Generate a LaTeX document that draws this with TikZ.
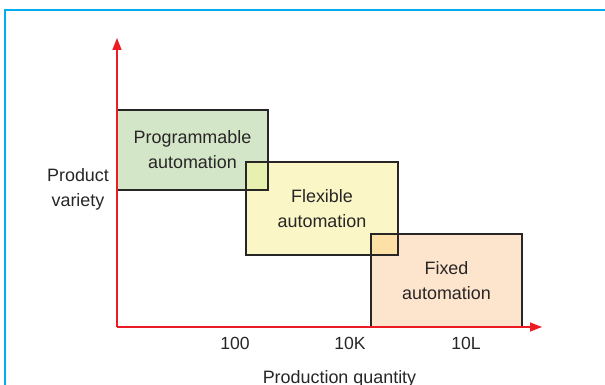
\documentclass[tikz,border=0pt]{standalone}
\usepackage{fontspec}
\setmainfont{Liberation Sans}
\usetikzlibrary{arrows.meta, positioning, calc}
\definecolor{frameBlue}{RGB}{0,174,239}
\definecolor{axisRed}{RGB}{237,28,36}
\definecolor{ink}{RGB}{40,37,38}
\definecolor{progGreen}{RGB}{212,230,200}
\definecolor{flexYellow}{RGB}{250,246,198}
\definecolor{fixedPeach}{RGB}{253,228,205}
\definecolor{olapGY}{RGB}{232,240,175}
\definecolor{olapYP}{RGB}{252,224,165}

\begin{document}
\begin{tikzpicture}[
  zone/.style={rectangle, outer sep=0pt, inner sep=0pt, text=ink, align=center,
    font=\fontsize{15.3}{21.5}\selectfont},
  lbl/.style={text=ink, align=center, font=\fontsize{15.3}{21.5}\selectfont},
  tick/.style={text=ink, font=\fontsize{15}{18}\selectfont},
  edge/.style={draw=ink, line width=1.1pt},
  axis/.style={-{Triangle[length=3.6mm, width=2.7mm]}, line width=1.3pt, draw=axisRed}
]
\useasboundingbox (-3.51,-1.74) rectangle (14.64,9.81);
% frame
\draw[frameBlue, line width=1.7pt] (-3.36,-1.9) |- (14.8,9.51);
% zones
\node[zone, fill=progGreen, minimum width=4.53cm, minimum height=2.4cm] (prog) at (2.265,5.31) {Programmable\\automation};
\node[zone, fill=flexYellow, minimum width=4.56cm, minimum height=2.79cm] (flex) at (6.15,3.555) {Flexible\\automation};
\node[zone, fill=fixedPeach, minimum width=4.53cm, minimum height=2.79cm] (fixed) at (9.885,1.395) {Fixed\\automation};
\fill[olapGY] (flex.north west) rectangle (prog.south east);
\fill[olapYP] (fixed.north west) rectangle (flex.south east);
\foreach \n in {prog,flex,fixed}{
  \draw[edge] (\n.south west) rectangle (\n.north east);
}
% axes
\coordinate (o) at (0,0);
\coordinate (ytip) at (0,8.67);
\coordinate (xtip) at (12.75,0);
\draw[axis] (o) -- (ytip);
\draw[axis] (o) -- (xtip);
\node[lbl] (ylab) at (-1.17,4.14) {Product\\variety};
\foreach \x/\name/\t in {3.54/t1/100, 6.99/t2/10K, 10.47/t3/10L}{
  \node[tick] (\name) at (\x,-0.48) {\t};
}
\node[lbl] (xlab) at (6.675,-1.55) {Production quantity};
\end{tikzpicture}
\end{document}
